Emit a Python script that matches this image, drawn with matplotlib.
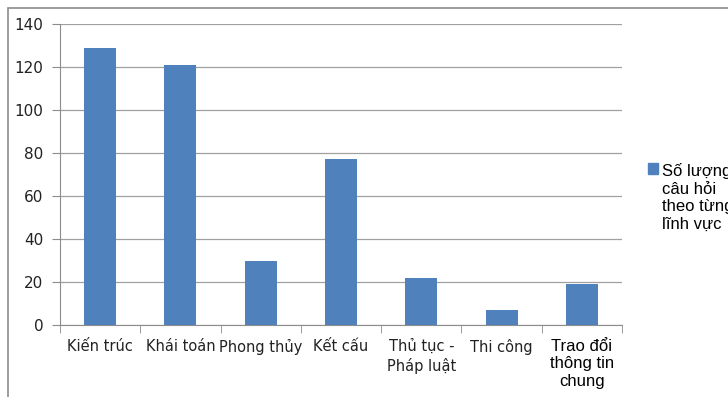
import matplotlib
matplotlib.use("Agg")
import matplotlib.pyplot as plt
from matplotlib.patches import Rectangle, Patch
from matplotlib import font_manager
from matplotlib.offsetbox import HPacker

categories = ["Kiến trúc", "Khái toán", "Phong thủy", "Kết cấu",
              "Thủ tục -\nPháp luật", "Thi công", "Trao đổi\nthông tin\nchung"]
values = [129, 121, 30, 77, 22, 7, 19]
yticks = [0, 20, 40, 60, 80, 100, 120, 140]
legend_label = "Số lượng\ncâu hỏi\ntheo từng\nlĩnh vực"

names = {f.name for f in font_manager.fontManager.ttflist}
wide = "Liberation Sans" if "Liberation Sans" in names else "DejaVu Sans"
narrow = "DejaVu Sans"

W, H = 728, 397
fig = plt.figure(figsize=(W / 100, H / 100), dpi=100)
fig.patch.set_facecolor("white")

# outer chart border (top/left visible)
fig.patches.append(Rectangle((8 / W, -0.1), 1.2, (H - 8) / H + 0.1,
                             transform=fig.transFigure, fill=False,
                             edgecolor="#8c8c8c", linewidth=1.2))

ax = fig.add_axes([60 / W, (H - 325) / H, (622 - 60) / W, (325 - 24) / H])
x = list(range(len(categories)))
ax.bar(x, values, width=0.4, color="#4f81bd", zorder=3)
ax.set_xlim(-0.5, len(categories) - 0.5)
ax.set_ylim(0, 140)
ax.set_yticks(yticks)
ax.set_xticks(x)
ax.set_xticks([i - 0.5 for i in range(len(categories) + 1)], minor=True)
ax.tick_params(axis="x", which="major", length=0, pad=10)
ax.tick_params(axis="x", which="minor", length=6, color="#8c8c8c", direction="out")
ax.tick_params(axis="y", length=6, color="#8c8c8c", direction="out", pad=6)
ax.set_yticklabels([str(v) for v in yticks], fontsize=11, family=narrow, color="#222222")
ax.set_xticklabels(categories, fontsize=10.5, family=narrow, linespacing=1.3, color="#222222")
lbls = ax.get_xticklabels()
lbls[-1].set_fontproperties(font_manager.FontProperties(family=wide, size=12))
lbls[-1].set_color("black")
lbls[-1].set_linespacing(1.2)
ax.yaxis.grid(True, color="#a0a0a0", linewidth=0.9, zorder=0)
for s in ["top", "right"]:
    ax.spines[s].set_visible(False)
for s in ["left", "bottom"]:
    ax.spines[s].set_color("#8c8c8c")

leg = fig.legend(handles=[Patch(color="#4f81bd", label=legend_label)],
                 loc="upper left", bbox_to_anchor=(645 / W, (H - 160) / H),
                 frameon=False, handlelength=0.6, handleheight=0.6,
                 handletextpad=0.25, borderaxespad=0, borderpad=0.2,
                 prop={"family": wide, "size": 12})
for t in leg.get_texts():
    t.set_linespacing(1.2)


def set_top(box):
    if isinstance(box, HPacker):
        box.align = "top"
    for c in box.get_children():
        set_top(c)


try:
    for c in leg._legend_handle_box.get_children():
        set_top(c)
except Exception:
    pass

fig.savefig("out.png", dpi=100)
